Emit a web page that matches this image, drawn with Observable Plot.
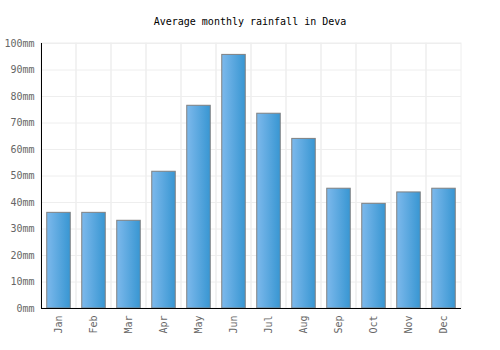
<!DOCTYPE html>
<html>
<head>
<meta charset="utf-8">
<script src="https://cdn.jsdelivr.net/npm/d3@7"></script>
<script src="https://cdn.jsdelivr.net/npm/@observablehq/plot@0.6"></script>
<style>
  html, body { margin: 0; padding: 0; background: #fff; }
  #title { height: 14px; padding-top: 16px; font: 10px "DejaVu Sans Mono", monospace; line-height: 12px; text-align: center; color: #000; width: 500px; }
</style>
</head>
<body>
<div id="title">Average monthly rainfall in Deva</div>
<div id="chart"></div>
<script>
const months = ["Jan","Feb","Mar","Apr","May","Jun","Jul","Aug","Sep","Oct","Nov","Dec"];
const rainfall = [36.1, 36.1, 33.1, 51.6, 76.5, 95.7, 73.5, 64.0, 45.2, 39.5, 43.8, 45.2];
const yTicks = [0,10,20,30,40,50,60,70,80,90,100];

const data = months.map((m, i) => ({month: m, value: rainfall[i]}));

const defs = () => {
  const svg = d3.create("svg:defs");
  const g = svg.append("linearGradient").attr("id", "barGrad").attr("x1", "0").attr("x2", "1").attr("y1", "0").attr("y2", "0");
  g.append("stop").attr("offset", "0%").attr("stop-color", "#7db9ec");
  g.append("stop").attr("offset", "100%").attr("stop-color", "#3896d2");
  return svg.node();
};

const chart = Plot.plot({
  width: 500,
  height: 320,
  marginTop: 13,
  marginBottom: 42,
  marginLeft: 41,
  marginRight: 39,
  style: {fontFamily: "DejaVu Sans Mono, monospace", fontSize: "10px", color: "#666", background: "#fff"},
  x: {domain: months, padding: 0, label: null},
  y: {domain: [0, 100], label: null},
  marks: [
    defs,
    Plot.cell(months, {x: d => d, stroke: "#eeeeee", fill: "none", strokeWidth: 1}),
    Plot.ruleY(yTicks, {stroke: "#eeeeee"}),
    Plot.barY(data, {x: "month", y: "value", fill: "url(#barGrad)", stroke: "#808080", strokeWidth: 1, insetLeft: 5.75, insetRight: 5.75}),
    Plot.axisY({ticks: yTicks, tickSize: 0, tickPadding: 7, tickFormat: d => d + "mm", fill: "#666", label: null}),
    Plot.axisX({tickSize: 0, tickRotate: -90, tickPadding: 7, fill: "#666", label: null}),
    Plot.frame({anchor: "left", stroke: "#000"}),
    Plot.ruleY([0], {stroke: "#000"})
  ]
});
document.getElementById("chart").appendChild(chart);
</script>
</body>
</html>
